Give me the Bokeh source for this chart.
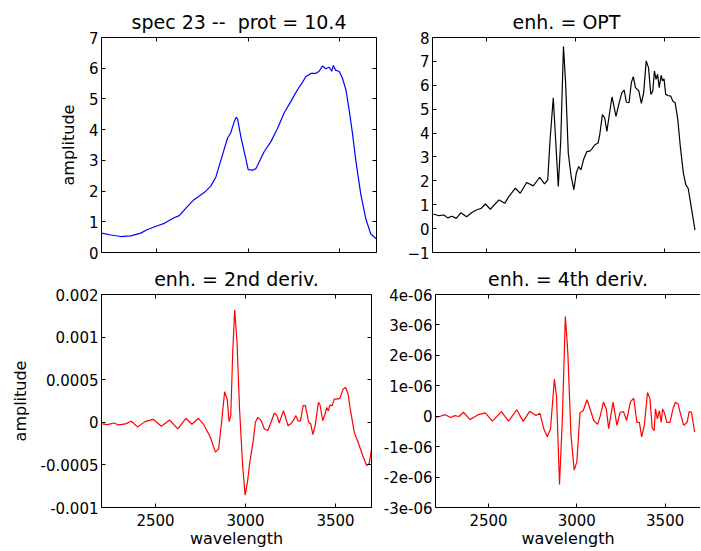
from bokeh.plotting import figure
from bokeh.layouts import column, row
from bokeh.models import LinearAxis, FixedTicker, Range1d, CustomLabelingPolicy
from bokeh.embed import file_html
from bokeh.resources import INLINE

# ---------------- data ----------------
x_ticks = [2500, 3000, 3500]

spec_wl = [2200, 2251, 2305, 2360, 2414, 2451, 2505, 2542, 2596, 2624, 2669, 2705, 2760, 2796, 2824,
           2851, 2887, 2905, 2924, 2935, 2942, 2960, 2987, 3000, 3024, 3042, 3060, 3087, 3124, 3160,
           3196, 3233, 3269, 3296, 3314, 3342, 3369, 3387, 3405, 3424, 3442, 3456, 3464, 3478, 3496,
           3514, 3533, 3551, 3569, 3587, 3614, 3642, 3669, 3700]
spec_amp = [0.63, 0.57, 0.52, 0.54, 0.63, 0.75, 0.87, 0.95, 1.13, 1.20, 1.50, 1.72, 1.95, 2.16, 2.46,
            3.0, 3.72, 3.90, 4.26, 4.40, 4.35, 3.77, 3.06, 2.70, 2.68, 2.73, 2.95, 3.28, 3.61, 4.04,
            4.54, 4.92, 5.30, 5.54, 5.72, 5.83, 5.83, 5.90, 6.07, 5.98, 6.03, 5.90, 6.09, 5.93, 5.90,
            5.68, 5.30, 4.64, 3.88, 3.0, 1.91, 1.09, 0.60, 0.44]
spec_yticks = [0, 1, 2, 3, 4, 5, 6, 7]

opt_wl = [2204, 2236, 2264, 2285, 2309, 2333, 2358, 2391, 2418, 2445, 2473, 2496, 2524, 2545, 2573,
          2605, 2627, 2664, 2691, 2727, 2764, 2800, 2827, 2845, 2858, 2876, 2887, 2904, 2918, 2933,
          2945, 2960, 2976, 2991, 3005, 3018, 3031, 3045, 3064, 3078, 3091, 3109, 3127, 3136, 3151,
          3164, 3176, 3191, 3205, 3227, 3245, 3260, 3273, 3285, 3300, 3313, 3324, 3336, 3355, 3369,
          3382, 3396, 3409, 3422, 3433, 3442, 3451, 3460, 3469, 3480, 3487, 3496, 3505, 3518, 3533,
          3545, 3558, 3573, 3587, 3604, 3618, 3631, 3645, 3660, 3669]
opt_amp = [0.61, 0.54, 0.57, 0.45, 0.52, 0.43, 0.66, 0.50, 0.66, 0.78, 0.85, 1.03, 0.81, 0.99, 1.20,
           1.06, 1.34, 1.69, 1.48, 1.93, 1.79, 2.15, 1.87, 2.04, 3.72, 5.48, 4.00, 1.76, 3.72, 7.62,
           6.10, 3.16, 2.19, 1.63, 2.33, 2.60, 2.46, 2.88, 3.23, 3.23, 3.33, 3.51, 3.58, 3.93, 4.77,
           4.63, 4.07, 4.84, 5.52, 4.70, 5.27, 5.69, 5.80, 5.29, 5.27, 6.11, 6.36, 5.90, 5.76, 5.24,
           5.69, 7.02, 6.74, 5.62, 5.76, 6.60, 6.25, 6.46, 5.90, 6.42, 6.18, 6.27, 5.62, 5.57, 5.55,
           5.34, 5.27, 4.56, 3.44, 2.32, 1.83, 1.69, 1.06, 0.36, -0.06]
opt_yticks = [-1, 0, 1, 2, 3, 4, 5, 6, 7, 8]

d2_wl = [2205, 2233, 2269, 2296, 2333, 2365, 2400, 2442, 2487, 2533, 2578, 2624, 2669, 2702, 2738,
         2769, 2805, 2833, 2851, 2869, 2884, 2898, 2909, 2918, 2929, 2940, 2953, 2967, 2984, 2998,
         3011, 3024, 3042, 3055, 3069, 3087, 3105, 3124, 3142, 3160, 3175, 3187, 3211, 3224, 3236,
         3251, 3265, 3280, 3291, 3305, 3320, 3333, 3351, 3363, 3374, 3387, 3405, 3414, 3429, 3442,
         3451, 3460, 3469, 3482, 3493, 3505, 3524, 3542, 3556, 3569, 3582, 3605, 3624, 3651, 3673,
         3687, 3700]
d2_val = [-0.19e-4, -0.27e-4, -0.08e-4, -0.31e-4, -0.19e-4, 0.12e-4, -0.54e-4, 0.08e-4, 0.35e-4, -0.47e-4,
          0.27e-4, -0.78e-4, 0.47e-4, -0.23e-4, 0.47e-4, -0.31e-4, -1.75e-4, -3.50e-4, -3.11e-4, 0.39e-4,
          3.58e-4, 2.72e-4, 0.08e-4, 0.78e-4, 8.17e-4, 13.2e-4, 9.34e-4, 1.56e-4, -5.06e-4, -8.56e-4,
          -7.00e-4, -4.67e-4, -2.33e-4, 0.0, 0.58e-4, 0.19e-4, -0.78e-4, -0.97e-4, 0.0, 1.09e-4,
          0.78e-4, -0.08e-4, 1.36e-4, 0.47e-4, -0.39e-4, -0.19e-4, 0.19e-4, 0.78e-4, 0.19e-4, 0.12e-4,
          1.95e-4, 1.95e-4, 0.0, -0.19e-4, -1.44e-4, -0.39e-4, 2.33e-4, 2.06e-4, 0.19e-4, 0.97e-4,
          1.75e-4, 1.36e-4, 2.02e-4, 1.95e-4, 2.72e-4, 2.72e-4, 2.80e-4, 3.89e-4, 4.09e-4, 3.42e-4,
          1.56e-4, -1.25e-4, -2.26e-4, -3.89e-4, -5.06e-4, -4.86e-4, -3.2e-4]
d2_yticks = [-0.001, -0.0005, 0, 0.0005, 0.001, 0.0015]
d2_ylabels = ["-0.001", "-0.0005", "0", "0.0005", "0.001", "0.002"]

d4_wl = [2204, 2227, 2255, 2285, 2309, 2333, 2358, 2396, 2442, 2482, 2522, 2573, 2613, 2660, 2696,
         2733, 2769, 2791, 2813, 2833, 2851, 2873, 2885, 2902, 2918, 2935, 2949, 2967, 2985, 3000,
         3018, 3036, 3058, 3078, 3096, 3118, 3133, 3151, 3167, 3180, 3205, 3227, 3245, 3264, 3282,
         3304, 3322, 3340, 3354, 3367, 3382, 3400, 3414, 3427, 3438, 3445, 3456, 3467, 3478, 3485,
         3496, 3509, 3527, 3545, 3558, 3573, 3587, 3605, 3624, 3636, 3649, 3667]
d4_val = [-0.03e-6, 0.0, 0.05e-6, -0.04e-6, 0.02e-6, -0.01e-6, 0.13e-6, -0.11e-6, 0.05e-6, 0.11e-6,
          -0.16e-6, 0.15e-6, -0.16e-6, 0.21e-6, -0.17e-6, 0.16e-6, 0.02e-6, 0.10e-6, -0.41e-6, -0.68e-6,
          -0.41e-6, 1.22e-6, 0.67e-6, -2.24e-6, -0.09e-6, 3.28e-6, 2.09e-6, -0.63e-6, -1.77e-6, -1.50e-6,
          0.11e-6, 0.18e-6, 0.54e-6, 0.18e-6, -0.14e-6, -0.27e-6, 0.02e-6, 0.46e-6, 0.24e-6, -0.41e-6,
          0.46e-6, -0.30e-6, 0.13e-6, 0.15e-6, -0.14e-6, 0.48e-6, 0.59e-6, -0.20e-6, -0.20e-6, -0.68e-6,
          -0.30e-6, 0.78e-6, 0.57e-6, -0.39e-6, -0.47e-6, 0.24e-6, -0.09e-6, 0.18e-6, -0.20e-6, 0.24e-6,
          0.11e-6, -0.20e-6, -0.20e-6, 0.26e-6, 0.46e-6, 0.40e-6, 0.08e-6, -0.30e-6, -0.20e-6, 0.15e-6,
          0.13e-6, -0.52e-6]
d4_yticks = [-3e-06, -2e-06, -1e-06, 0, 1e-06, 2e-06, 3e-06, 4e-06]
d4_ylabels = ["-3e-06", "-2e-06", "-1e-06", "0", "1e-06", "2e-06", "3e-06", "4e-06"]

FONT = "DejaVu Sans"
TICK_PX = "15px"
LABEL_PX = "16px"
TITLE_PX = "19px"

NO_LABELS = """
for (const i of indices) { indices.unset(i) }
return indices
"""


def style_axis(ax, ticks, show_labels=True, overrides=None, standoff=3):
    ax.ticker = FixedTicker(ticks=ticks)
    ax.major_tick_in = 4
    ax.major_tick_out = 0
    ax.minor_tick_in = 0
    ax.minor_tick_out = 0
    ax.axis_line_color = "black"
    ax.axis_line_width = 1
    ax.major_tick_line_color = "black"
    ax.major_label_text_font = FONT
    ax.major_label_text_color = "black"
    if show_labels:
        ax.major_label_text_font_size = TICK_PX
        ax.major_label_standoff = standoff
    else:
        # tick marks only: labels are dropped by the labeling policy
        ax.major_label_text_font_size = "1px"
        ax.major_label_standoff = 0
        ax.major_label_policy = CustomLabelingPolicy(code=NO_LABELS)
    ax.axis_label_text_font = FONT
    ax.axis_label_text_font_size = LABEL_PX
    ax.axis_label_text_font_style = "normal"
    ax.axis_label_text_color = "black"
    if overrides:
        ax.major_label_overrides = overrides


def make_panel(title, wl, vals, color, y_range, yticks, ylabels, width, height,
               bl, br, bt, bb, show_x_labels, ylabel, xlabel, right_axis):
    p = figure(width=width, height=height, x_range=Range1d(2200, 3700),
               y_range=Range1d(*y_range), output_backend="svg", toolbar_location=None,
               min_border_left=bl, min_border_right=br, min_border_top=bt,
               min_border_bottom=bb)
    p.title.text = title
    p.title.text_font = FONT
    p.title.text_font_size = TITLE_PX
    p.title.text_font_style = "normal"
    p.title.text_color = "black"
    p.title.align = "center"
    p.title.standoff = 2
    p.outline_line_color = None
    p.xgrid.visible = False
    p.ygrid.visible = False
    p.background_fill_color = "white"
    p.border_fill_color = "white"

    style_axis(p.xaxis[0], x_ticks, show_labels=show_x_labels, standoff=6)
    if xlabel:
        p.xaxis[0].axis_label = xlabel
        p.xaxis[0].axis_label_standoff = 0
    ov = dict(zip(yticks, ylabels)) if ylabels else None
    style_axis(p.yaxis[0], yticks, overrides=ov, standoff=3)
    if ylabel:
        p.yaxis[0].axis_label = ylabel
        p.yaxis[0].axis_label_standoff = 8

    top = LinearAxis()
    style_axis(top, x_ticks, show_labels=False)
    p.add_layout(top, "above")
    if right_axis:
        rgt = LinearAxis()
        style_axis(rgt, yticks, show_labels=False)
        p.add_layout(rgt, "right")

    p.line(wl, vals, line_color=color, line_width=1.2)
    return p


# left column frame x 101..376 ; right column frame x 432..700
LW, RW = 380, 320
TH, BH = 262, 288

p1 = make_panel("spec 23 -- \u00a0prot = 10.4", spec_wl, spec_amp, "#0000ff", (0, 7),
                spec_yticks, None, LW, TH, 101, 4, 37, 10, False, "amplitude", None, True)
p2 = make_panel("enh. = OPT", opt_wl, opt_amp, "black", (-1, 8),
                opt_yticks, None, RW, TH, 52, 0, 37, 10, False, None, None, False)
p3 = make_panel("enh. = 2nd deriv.", d2_wl, d2_val, "#ff0000", (-0.001, 0.0015),
                d2_yticks, d2_ylabels, LW, BH, 101, 4, 32, 41, True, "amplitude", "wavelength", True)
p4 = make_panel("enh. = 4th deriv.", d4_wl, d4_val, "#ff0000", (-3e-06, 4e-06),
                d4_yticks, d4_ylabels, RW, BH, 52, 0, 32, 41, True, None, "wavelength", False)

layout = column(row(p1, p2), row(p3, p4))

open("out.html", "w").write(file_html(layout, INLINE))
